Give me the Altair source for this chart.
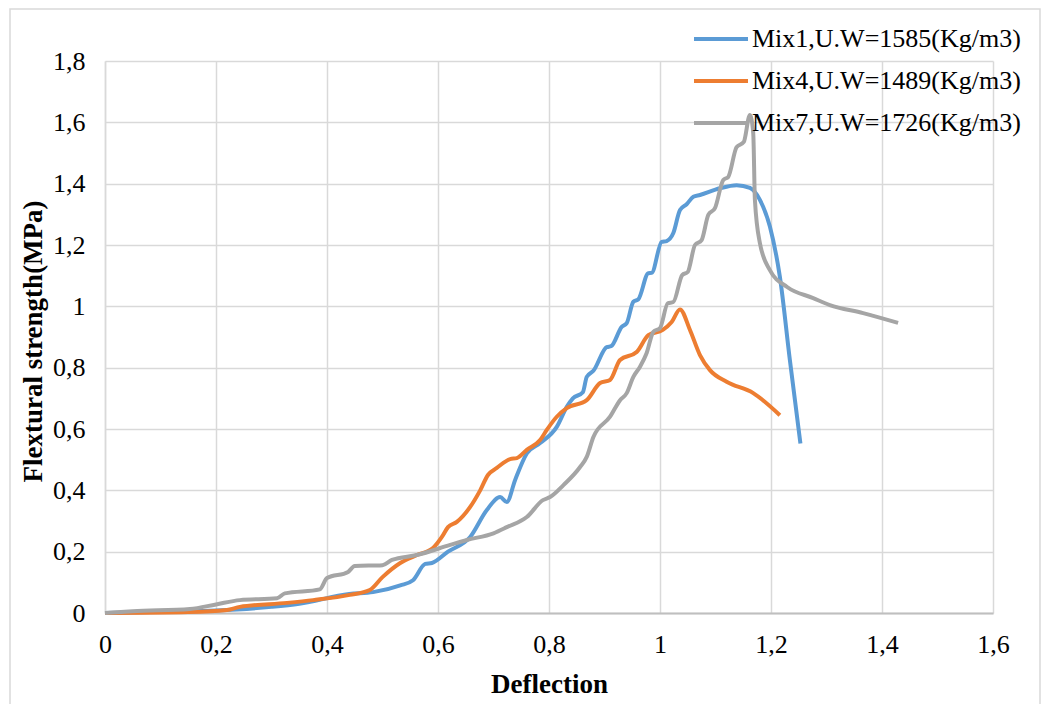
import altair as alt
import pandas as pd

# Mix1 (blue)
x1 = [0, 0.1, 0.2, 0.3, 0.35, 0.44, 0.483, 0.532, 0.555, 0.577, 0.589, 0.618, 0.658, 0.688, 0.712, 0.724,
      0.739, 0.76, 0.784, 0.814, 0.832, 0.843, 0.861, 0.868, 0.88, 0.904, 0.912, 0.931, 0.94, 0.952, 0.961,
      0.979, 0.985, 1.003, 1.012, 1.024, 1.036, 1.048, 1.06, 1.072, 1.108, 1.138, 1.162, 1.18, 1.198, 1.216,
      1.234, 1.253]
y1 = [0, 0.004, 0.008, 0.02, 0.03, 0.062, 0.068, 0.09, 0.107, 0.16, 0.163, 0.2, 0.248, 0.336, 0.378, 0.362,
      0.434, 0.52, 0.554, 0.607, 0.672, 0.7, 0.72, 0.77, 0.79, 0.867, 0.87, 0.933, 0.945, 1.015, 1.023,
      1.108, 1.109, 1.21, 1.213, 1.239, 1.314, 1.333, 1.357, 1.363, 1.385, 1.395, 1.386, 1.347, 1.26, 1.096,
      0.825, 0.553]

# Mix4 (orange)
x4 = [0, 0.15, 0.22, 0.243, 0.328, 0.375, 0.441, 0.477, 0.5, 0.532, 0.562, 0.591, 0.607, 0.618, 0.634,
      0.658, 0.676, 0.69, 0.706, 0.73, 0.742, 0.76, 0.784, 0.796, 0.814, 0.832, 0.868, 0.892, 0.91, 0.928,
      0.958, 0.979, 1.005, 1.021, 1.036, 1.054, 1.072, 1.09, 1.12, 1.168, 1.216]
y4 = [0, 0.003, 0.01, 0.02, 0.033, 0.042, 0.059, 0.075, 0.117, 0.163, 0.189, 0.212, 0.248, 0.28, 0.297,
      0.346, 0.4, 0.45, 0.473, 0.502, 0.505, 0.532, 0.564, 0.597, 0.64, 0.668, 0.694, 0.75, 0.76, 0.825,
      0.851, 0.906, 0.923, 0.949, 0.99, 0.923, 0.841, 0.792, 0.754, 0.717, 0.645]

# Mix7 (gray)
x7 = [0, 0.05, 0.153, 0.2, 0.243, 0.31, 0.324, 0.387, 0.4, 0.438, 0.45, 0.5, 0.517, 0.562, 0.622, 0.652,
      0.7, 0.724, 0.76, 0.789, 0.802, 0.826, 0.856, 0.868, 0.88, 0.91, 0.928, 0.94, 0.952, 0.964, 0.976,
      0.988, 1.0, 1.014, 1.024, 1.04, 1.05, 1.063, 1.075, 1.087, 1.099, 1.114, 1.123, 1.138, 1.151, 1.162,
      1.168, 1.171, 1.18, 1.198, 1.229, 1.276, 1.306, 1.366, 1.429]
y7 = [0, 0.006, 0.013, 0.028, 0.042, 0.048, 0.064, 0.077, 0.114, 0.134, 0.153, 0.156, 0.173, 0.189, 0.222,
      0.238, 0.26, 0.28, 0.313, 0.368, 0.378, 0.417, 0.476, 0.509, 0.574, 0.64, 0.694, 0.717, 0.77, 0.803,
      0.848, 0.917, 0.929, 1.01, 1.014, 1.102, 1.112, 1.2, 1.216, 1.298, 1.32, 1.412, 1.422, 1.519, 1.536,
      1.624, 1.565, 1.347, 1.206, 1.118, 1.063, 1.027, 1.004, 0.978, 0.946]

series_names = ["Mix1,U.W=1585(Kg/m3)", "Mix4,U.W=1489(Kg/m3)", "Mix7,U.W=1726(Kg/m3)"]
series_colors = ["#5B9BD5", "#ED7D31", "#A5A5A5"]
x_ticks = [0, 0.2, 0.4, 0.6, 0.8, 1.0, 1.2, 1.4, 1.6]
y_ticks = [0, 0.2, 0.4, 0.6, 0.8, 1.0, 1.2, 1.4, 1.6, 1.8]

frames = []
for name, xs, ys in zip(series_names, [x1, x4, x7], [y1, y4, y7]):
    frames.append(pd.DataFrame({"x": xs, "y": ys, "series": name}))
df = pd.concat(frames, ignore_index=True)

FONT = "Liberation Serif"
label_expr = "replace(format(datum.value, '~g'), '.', ',')"

border = alt.Chart(pd.DataFrame({"a": [0]})).mark_rect(
    fillOpacity=0, stroke="#D9D9D9", strokeWidth=1.5
).encode(
    x=alt.value(-95), x2=alt.value(935), y=alt.value(-52), y2=alt.value(700)
)

lines = alt.Chart(df).mark_line(strokeWidth=4, interpolate="monotone", clip=False).encode(
    x=alt.X("x:Q",
            scale=alt.Scale(domain=[0, 1.6], nice=False, zero=False),
            axis=alt.Axis(values=x_ticks, labelExpr=label_expr, title="Deflection",
                          ticks=False, labelPadding=18, labelFlush=False,
                          titleY=79, titleBaseline="alphabetic",
                          domainColor="#BFBFBF", domainWidth=2, gridColor="#D9D9D9", gridWidth=1.5)),
    y=alt.Y("y:Q",
            scale=alt.Scale(domain=[0, 1.8], nice=False, zero=False),
            axis=alt.Axis(values=y_ticks, labelExpr=label_expr, title="Flextural strength(MPa)",
                          ticks=False, labelPadding=20, labelFlush=False,
                          titleX=-72, titleY=280, titleAngle=270,
                          titleAlign="center", titleBaseline="middle",
                          domainColor="#D9D9D9", domainWidth=1.5, gridColor="#D9D9D9", gridWidth=1.5)),
    color=alt.Color("series:N",
                    scale=alt.Scale(domain=series_names, range=series_colors),
                    legend=alt.Legend(title=None, orient="none", legendX=587, legendY=-51,
                                      symbolType="stroke", symbolSize=2916, symbolStrokeWidth=4,
                                      labelFontSize=26, labelFont=FONT, labelColor="black",
                                      labelOffset=2, rowPadding=-15, padding=0, labelLimit=400)),
    order=alt.Order("x:Q"),
)

chart = alt.layer(border, lines).properties(
    width=888, height=552,
    autosize=alt.AutoSizeParams(type="none"),
    padding={"left": 105, "top": 61, "right": 50, "bottom": 91},
).configure(
    background="white",
).configure_view(
    stroke=None,
).configure_axis(
    labelFont=FONT, labelFontSize=26, labelColor="black",
    titleFont=FONT, titleFontSize=27, titleFontWeight="bold", titleColor="black",
)

chart.save("out.html", embed_options={"renderer": "svg", "actions": False})
